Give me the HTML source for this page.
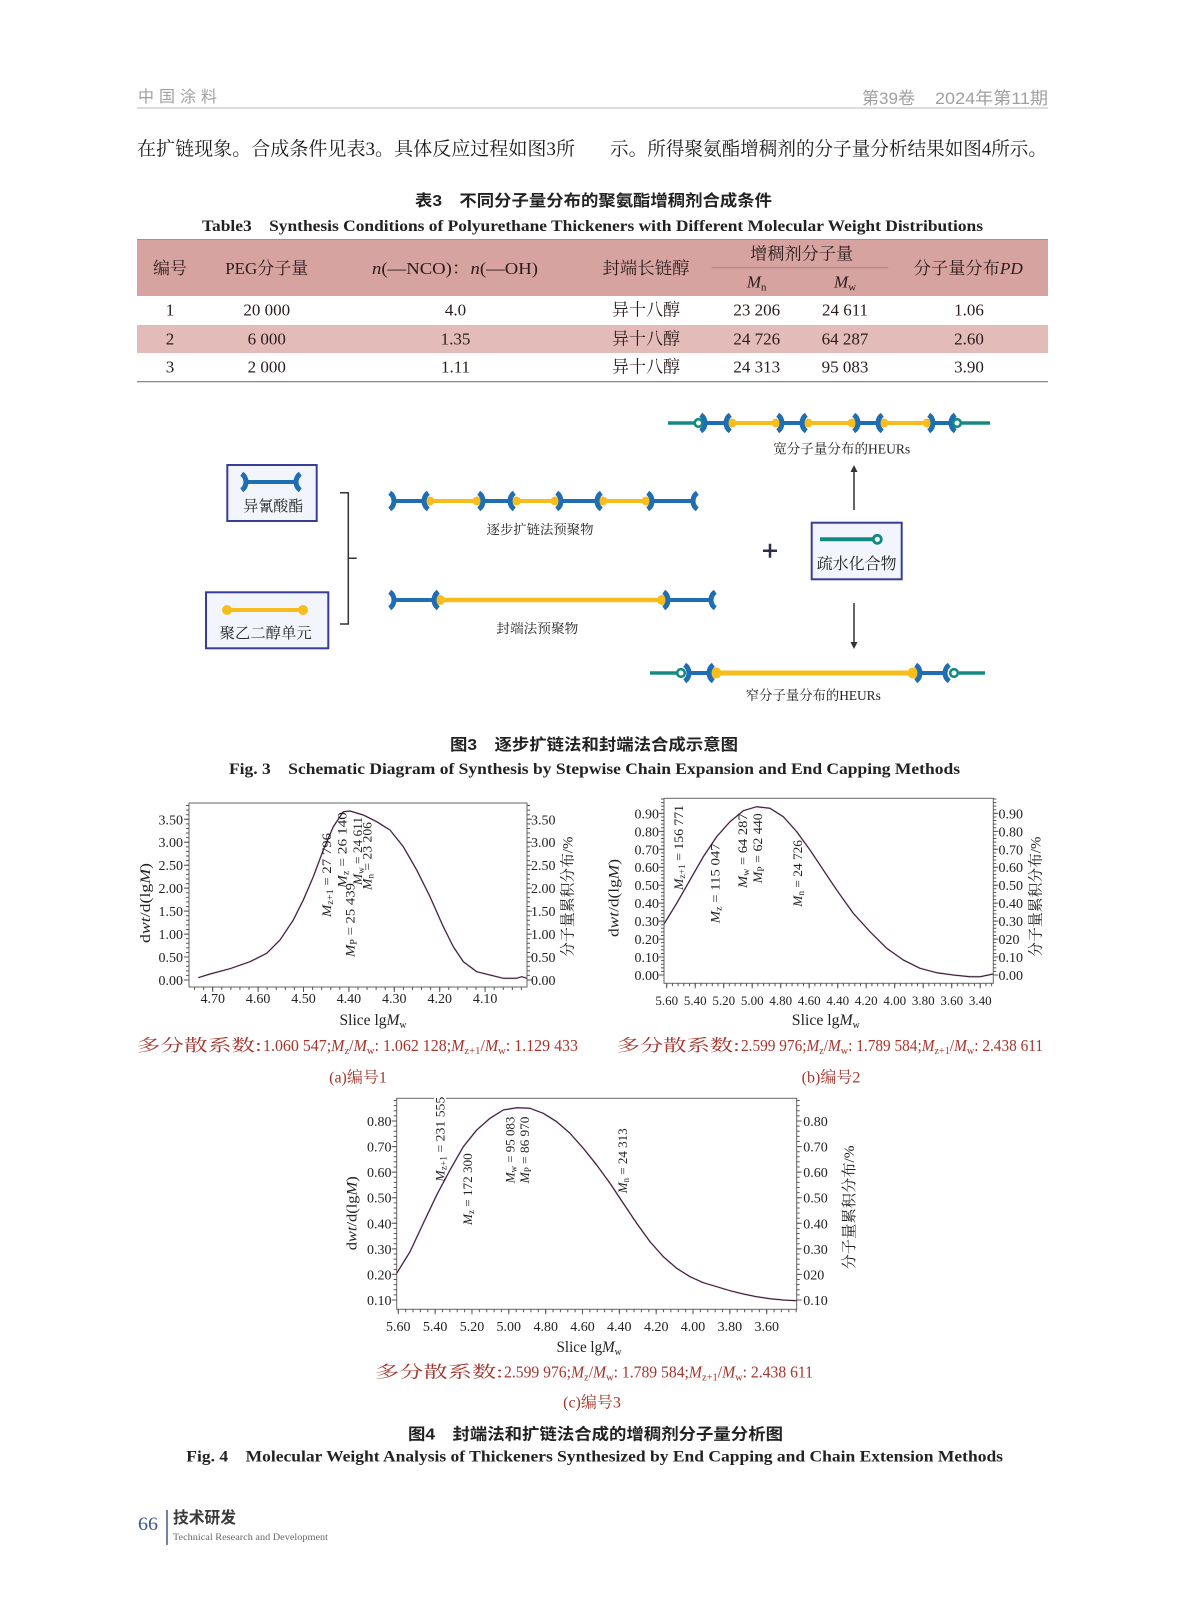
<!DOCTYPE html>
<html><head><meta charset="utf-8">
<style>
html,body{margin:0;padding:0;background:#fff;}
svg{display:block;}
.s{font-family:"Liberation Serif","Noto Serif CJK SC",serif;}
.h{font-family:"Liberation Sans","Noto Sans CJK SC",sans-serif;}
.it{font-style:italic;}
</style></head><body>
<svg width="1187" height="1600" viewBox="0 0 1187 1600" xmlns="http://www.w3.org/2000/svg">
<rect width="1187" height="1600" fill="#fff"/>

<!-- Header -->
<text class="h" x="138" y="102" font-size="16" fill="#a0a0a0" letter-spacing="5">中国涂料</text>
<text class="h" x="862" y="104" font-size="17" fill="#a0a0a0" textLength="53" lengthAdjust="spacingAndGlyphs">第39卷</text>
<text class="h" x="935" y="104" font-size="17" fill="#a0a0a0" textLength="113" lengthAdjust="spacingAndGlyphs">2024年第11期</text>
<line x1="137" y1="108" x2="1048" y2="108" stroke="#d0d0d0" stroke-width="1.5"/>

<!-- Body text -->
<text class="s" x="137" y="155" font-size="19" fill="#1a1a1a" textLength="438" lengthAdjust="spacingAndGlyphs">在扩链现象。合成条件见表3。具体反应过程如图3所</text>
<text class="s" x="610" y="155" font-size="19" fill="#1a1a1a" textLength="437" lengthAdjust="spacingAndGlyphs">示。所得聚氨酯增稠剂的分子量分析结果如图4所示。</text>

<!-- Table titles -->
<text class="h" x="415" y="206" font-size="16" font-weight="bold" fill="#222" textLength="357" lengthAdjust="spacingAndGlyphs">表3　不同分子量分布的聚氨酯增稠剂合成条件</text>
<text class="s" x="202" y="231" font-size="16" font-weight="bold" fill="#222" textLength="781" lengthAdjust="spacingAndGlyphs">Table3　Synthesis Conditions of Polyurethane Thickeners with Different Molecular Weight Distributions</text>

<!-- Table -->
<rect x="137" y="239" width="911" height="57" fill="#d6a3a0"/>
<line x1="137" y1="239.5" x2="1048" y2="239.5" stroke="#b98884" stroke-width="1"/>
<rect x="137" y="325" width="911" height="28" fill="#e3bcb9"/>
<line x1="137" y1="381.7" x2="1048" y2="381.7" stroke="#7a7a7a" stroke-width="1.2"/>
<g class="s" font-size="17" fill="#2a1c1c" text-anchor="middle">
<text x="170" y="274" textLength="34" lengthAdjust="spacingAndGlyphs">编号</text>
<text x="266.7" y="274" textLength="83" lengthAdjust="spacingAndGlyphs">PEG分子量</text>
<text x="455" y="274" textLength="166" lengthAdjust="spacingAndGlyphs"><tspan class="it">n</tspan>(—NCO)：<tspan class="it">n</tspan>(—OH)</text>
<text x="646" y="274" textLength="87" lengthAdjust="spacingAndGlyphs">封端长链醇</text>
<text x="801.7" y="259.5" textLength="103" lengthAdjust="spacingAndGlyphs">增稠剂分子量</text>
<text x="756.7" y="287.5"><tspan class="it">M</tspan><tspan font-size="11" dy="3">n</tspan></text>
<text x="845" y="287.5"><tspan class="it">M</tspan><tspan font-size="11" dy="3">w</tspan></text>
<text x="968.3" y="274" textLength="109" lengthAdjust="spacingAndGlyphs">分子量分布<tspan class="it">PD</tspan></text>

<text x="170" y="315.5">1</text>
<text x="266.7" y="315.5">20 000</text>
<text x="455.5" y="315.5">4.0</text>
<text x="646" y="315.5">异十八醇</text>
<text x="756.7" y="315.5">23 206</text>
<text x="845" y="315.5">24 611</text>
<text x="969" y="315.5">1.06</text>

<text x="170" y="344.5">2</text>
<text x="266.7" y="344.5">6 000</text>
<text x="455.5" y="344.5">1.35</text>
<text x="646" y="344.5">异十八醇</text>
<text x="756.7" y="344.5">24 726</text>
<text x="845" y="344.5">64 287</text>
<text x="969" y="344.5">2.60</text>

<text x="170" y="372.5">3</text>
<text x="266.7" y="372.5">2 000</text>
<text x="455.5" y="372.5">1.11</text>
<text x="646" y="372.5">异十八醇</text>
<text x="756.7" y="372.5">24 313</text>
<text x="845" y="372.5">95 083</text>
<text x="969" y="372.5">3.90</text>
</g>
<line x1="711.7" y1="267.7" x2="888.3" y2="267.7" stroke="#b07f7b" stroke-width="1"/>

<!-- Diagram -->
<g>
<rect x="227.3" y="465" width="89.4" height="56" fill="#f2f6fc" stroke="#3a3d96" stroke-width="2"/>
<rect x="206" y="592.3" width="122.3" height="56" fill="#f2f6fc" stroke="#3a3d96" stroke-width="2"/>
<rect x="811.7" y="522.7" width="90" height="56.6" fill="#f2f6fc" stroke="#3a3d96" stroke-width="2"/>

<!-- icon isocyanate -->
<g stroke="#1f6db2" fill="none" stroke-width="5">
<line x1="246" y1="482" x2="296" y2="482" stroke-width="4"/>
<path d="M241.7,473.8 A10,10 0 0 1 241.7,490.2"/>
<path d="M300.3,473.8 A10,10 0 0 0 300.3,490.2"/>
</g>
<!-- icon PEG -->
<line x1="227" y1="610" x2="303" y2="610" stroke="#f6bd1c" stroke-width="4"/>
<circle cx="227" cy="610" r="5" fill="#f6bd1c"/>
<circle cx="303" cy="610" r="5" fill="#f6bd1c"/>
<!-- icon hydrophobe -->
<line x1="820" y1="539.3" x2="873" y2="539.3" stroke="#138a80" stroke-width="4"/>
<circle cx="877.3" cy="539.3" r="4" fill="#fff" stroke="#138a80" stroke-width="2.8"/>

<g class="s" fill="#222" text-anchor="middle">
<text x="273.3" y="511" font-size="15" textLength="60" lengthAdjust="spacingAndGlyphs">异氰酸酯</text>
<text x="265.7" y="638" font-size="15" textLength="92" lengthAdjust="spacingAndGlyphs">聚乙二醇单元</text>
<text x="856.7" y="569" font-size="16" textLength="80" lengthAdjust="spacingAndGlyphs">疏水化合物</text>
<text x="540" y="534" font-size="13.3" textLength="107" lengthAdjust="spacingAndGlyphs">逐步扩链法预聚物</text>
<text x="537.3" y="633" font-size="13.3" textLength="82" lengthAdjust="spacingAndGlyphs">封端法预聚物</text>
<text x="841.7" y="453.5" font-size="13.5" textLength="137" lengthAdjust="spacingAndGlyphs">宽分子量分布的HEURs</text>
<text x="813.3" y="700" font-size="13.5" textLength="135" lengthAdjust="spacingAndGlyphs">窄分子量分布的HEURs</text>
</g>

<!-- bracket -->
<path d="M340,492.7 L348.3,492.7 L348.3,624 L340,624 M348.3,558.3 L356.7,558.3" stroke="#333" stroke-width="1.5" fill="none"/>
<!-- plus -->
<path d="M763,550.7 H777 M770,543.7 V557.7" stroke="#283048" stroke-width="2.5"/>
<!-- arrows -->
<line x1="854" y1="510" x2="854" y2="470" stroke="#333" stroke-width="1.5"/>
<polygon points="854,465 850.5,472 857.5,472" fill="#333"/>
<line x1="854" y1="603" x2="854" y2="644" stroke="#333" stroke-width="1.5"/>
<polygon points="854,649 850.5,642 857.5,642" fill="#333"/>

<!-- chain 1: stepwise -->
<g>
<g stroke="#f6bd1c" stroke-width="4"><line x1="430" y1="501" x2="477" y2="501"/><line x1="516.5" y1="501" x2="555" y2="501"/><line x1="603" y1="501" x2="646" y2="501"/></g>
<g fill="#f6bd1c"><circle cx="430" cy="501" r="4.5"/><circle cx="477" cy="501" r="4.5"/><circle cx="516.5" cy="501" r="4.5"/><circle cx="555" cy="501" r="4.5"/><circle cx="603" cy="501" r="4.5"/><circle cx="646" cy="501" r="4.5"/></g>
<g stroke="#1f6db2" stroke-width="5" fill="none">
<line x1="394" y1="501" x2="424" y2="501" stroke-width="4"/><path d="M389.7,492.8 A10,10 0 0 1 389.7,509.2"/><path d="M428.3,492.8 A10,10 0 0 0 428.3,509.2"/>
<line x1="483" y1="501" x2="510" y2="501" stroke-width="4"/><path d="M478.7,492.8 A10,10 0 0 1 478.7,509.2"/><path d="M514.3,492.8 A10,10 0 0 0 514.3,509.2"/>
<line x1="561" y1="501" x2="597" y2="501" stroke-width="4"/><path d="M556.7,492.8 A10,10 0 0 1 556.7,509.2"/><path d="M601.3,492.8 A10,10 0 0 0 601.3,509.2"/>
<line x1="652" y1="501" x2="693" y2="501" stroke-width="4"/><path d="M647.7,492.8 A10,10 0 0 1 647.7,509.2"/><path d="M697.3,492.8 A10,10 0 0 0 697.3,509.2"/>
</g>
</g>

<!-- chain 2: end-capping -->
<g>
<line x1="440" y1="600" x2="662" y2="600" stroke="#f6bd1c" stroke-width="4.5"/>
<circle cx="440" cy="600" r="5" fill="#f6bd1c"/><circle cx="662" cy="600" r="5" fill="#f6bd1c"/>
<g stroke="#1f6db2" stroke-width="5" fill="none">
<line x1="394" y1="600" x2="434" y2="600" stroke-width="4"/><path d="M389.7,591.8 A10,10 0 0 1 389.7,608.2"/><path d="M438.3,591.8 A10,10 0 0 0 438.3,608.2"/>
<line x1="668" y1="600" x2="711" y2="600" stroke-width="4"/><path d="M663.7,591.8 A10,10 0 0 1 663.7,608.2"/><path d="M715.3,591.8 A10,10 0 0 0 715.3,608.2"/>
</g>
</g>

<!-- top chain: broad HEURs -->
<g>
<g stroke="#138a80" stroke-width="3.5"><line x1="668" y1="423" x2="694" y2="423"/><line x1="961" y1="423" x2="990" y2="423"/></g>
<g stroke="#f6bd1c" stroke-width="4"><line x1="732" y1="423" x2="776" y2="423"/><line x1="808" y1="423" x2="852" y2="423"/><line x1="884" y1="423" x2="927" y2="423"/></g>
<g fill="#f6bd1c"><circle cx="732" cy="423" r="4.5"/><circle cx="776" cy="423" r="4.5"/><circle cx="808" cy="423" r="4.5"/><circle cx="852" cy="423" r="4.5"/><circle cx="884" cy="423" r="4.5"/><circle cx="927" cy="423" r="4.5"/></g>
<g stroke="#1f6db2" stroke-width="5" fill="none">
<line x1="705" y1="423" x2="726" y2="423" stroke-width="4"/><path d="M700.7,414.8 A10,10 0 0 1 700.7,431.2"/><path d="M730.3,414.8 A10,10 0 0 0 730.3,431.2"/>
<line x1="782" y1="423" x2="802" y2="423" stroke-width="4"/><path d="M777.7,414.8 A10,10 0 0 1 777.7,431.2"/><path d="M806.3,414.8 A10,10 0 0 0 806.3,431.2"/>
<line x1="858" y1="423" x2="878" y2="423" stroke-width="4"/><path d="M853.7,414.8 A10,10 0 0 1 853.7,431.2"/><path d="M882.3,414.8 A10,10 0 0 0 882.3,431.2"/>
<line x1="933" y1="423" x2="951" y2="423" stroke-width="4"/><path d="M928.7,414.8 A10,10 0 0 1 928.7,431.2"/><path d="M955.3,414.8 A10,10 0 0 0 955.3,431.2"/>
</g>
<circle cx="698.5" cy="423" r="3.8" fill="#fff" stroke="#138a80" stroke-width="2.6"/>
<circle cx="957" cy="423" r="3.8" fill="#fff" stroke="#138a80" stroke-width="2.6"/>
</g>

<!-- bottom chain: narrow HEURs -->
<g>
<g stroke="#138a80" stroke-width="3.5"><line x1="650" y1="673" x2="677" y2="673"/><line x1="959" y1="673" x2="985" y2="673"/></g>
<line x1="716" y1="673" x2="913" y2="673" stroke="#f6bd1c" stroke-width="5"/>
<circle cx="716" cy="673" r="5.5" fill="#f6bd1c"/><circle cx="913" cy="673" r="5.5" fill="#f6bd1c"/>
<g stroke="#1f6db2" stroke-width="5" fill="none">
<line x1="689" y1="673" x2="709" y2="673" stroke-width="4"/><path d="M684.7,664.8 A10,10 0 0 1 684.7,681.2"/><path d="M713.3,664.8 A10,10 0 0 0 713.3,681.2"/>
<line x1="920" y1="673" x2="945" y2="673" stroke-width="4"/><path d="M915.7,664.8 A10,10 0 0 1 915.7,681.2"/><path d="M949.3,664.8 A10,10 0 0 0 949.3,681.2"/>
</g>
<circle cx="681" cy="673" r="3.8" fill="#fff" stroke="#138a80" stroke-width="2.6"/>
<circle cx="954" cy="673" r="3.8" fill="#fff" stroke="#138a80" stroke-width="2.6"/>
</g>
</g>

<!-- Fig 3 caption -->
<text class="h" x="594" y="750" font-size="16" font-weight="bold" fill="#222" text-anchor="middle" textLength="288" lengthAdjust="spacingAndGlyphs">图3　逐步扩链法和封端法合成示意图</text>
<text class="s" x="229" y="774" font-size="16" font-weight="bold" fill="#222" textLength="731" lengthAdjust="spacingAndGlyphs">Fig. 3　Schematic Diagram of Synthesis by Stepwise Chain Expansion and End Capping Methods</text>

<!-- ============ Chart A ============ -->
<g class="s" fill="#222">
<rect x="189" y="803" width="338" height="184" fill="none" stroke="#666" stroke-width="1"/>
<g stroke="#555">
<line x1="187.5" y1="980.5" x2="187.5" y2="803" stroke-width="3" stroke-dasharray="1 3.592"/>
<line x1="186.5" y1="980.5" x2="186.5" y2="803" stroke-width="5" stroke-dasharray="1 21.96"/>
<line x1="528.5" y1="980.5" x2="528.5" y2="803" stroke-width="3" stroke-dasharray="1 3.592"/>
<line x1="529.5" y1="980.5" x2="529.5" y2="803" stroke-width="5" stroke-dasharray="1 21.96"/>
<line x1="194.04" y1="988.5" x2="527" y2="988.5" stroke-width="3" stroke-dasharray="1 8.08"/>
<line x1="212.2" y1="989.5" x2="527" y2="989.5" stroke-width="5" stroke-dasharray="1 44.4"/>
</g>
<g font-size="14" text-anchor="end">
<text x="183" y="824.3">3.50</text><text x="183" y="847.2">3.00</text><text x="183" y="870.2">2.50</text><text x="183" y="893.1">2.00</text><text x="183" y="916.1">1.50</text><text x="183" y="939">1.00</text><text x="183" y="962">0.50</text><text x="183" y="985">0.00</text>
</g>
<g font-size="14">
<text x="531" y="824.3">3.50</text><text x="531" y="847.2">3.00</text><text x="531" y="870.2">2.50</text><text x="531" y="893.1">2.00</text><text x="531" y="916.1">1.50</text><text x="531" y="939">1.00</text><text x="531" y="962">0.50</text><text x="531" y="985">0.00</text>
</g>
<g font-size="14" text-anchor="middle">
<text x="212.7" y="1003">4.70</text><text x="258.1" y="1003">4.60</text><text x="303.5" y="1003">4.50</text><text x="348.9" y="1003">4.40</text><text x="394.3" y="1003">4.30</text><text x="439.7" y="1003">4.20</text><text x="485.1" y="1003">4.10</text>
</g>
<polyline points="198.3,977.7 210,974 230,968.7 250,961.7 266.7,953.3 280,940 293.3,920 303.3,900 313.3,876.7 323.3,850 333.3,826.7 343.3,811.7 350,811 363.3,815 376.7,821.7 390,830 403.3,846.7 416.7,870 430,896.7 443.3,926.7 453.3,946.7 463.3,961.7 476.7,971.7 490,975 503.3,978.3 516.7,978.3 521.7,976.7 527,978.3" fill="none" stroke="#c884b4" stroke-width="1.8" stroke-linejoin="round" opacity="0.7"/>
<polyline points="198.3,977.7 210,974 230,968.7 250,961.7 266.7,953.3 280,940 293.3,920 303.3,900 313.3,876.7 323.3,850 333.3,826.7 343.3,811.7 350,811 363.3,815 376.7,821.7 390,830 403.3,846.7 416.7,870 430,896.7 443.3,926.7 453.3,946.7 463.3,961.7 476.7,971.7 490,975 503.3,978.3 516.7,978.3 521.7,976.7 527,978.3" fill="none" stroke="#2a1d30" stroke-width="1" stroke-linejoin="round"/>
<g font-size="13">
<text transform="translate(331,917) rotate(-90)" textLength="84" lengthAdjust="spacingAndGlyphs"><tspan class="it">M</tspan><tspan font-size="9" dy="2">z+1</tspan><tspan dy="-2"> = 27 796</tspan></text>
<text transform="translate(346.5,888) rotate(-90)" textLength="76" lengthAdjust="spacingAndGlyphs"><tspan class="it">M</tspan><tspan font-size="9" dy="2">z</tspan><tspan dy="-2"> = 26 140</tspan></text>
<text transform="translate(354.5,957) rotate(-90)" textLength="74" lengthAdjust="spacingAndGlyphs"><tspan class="it">M</tspan><tspan font-size="9" dy="2">P</tspan><tspan dy="-2"> = 25 439</tspan></text>
<text transform="translate(362,885) rotate(-90)" textLength="68" lengthAdjust="spacingAndGlyphs"><tspan class="it">M</tspan><tspan font-size="9" dy="2">w</tspan><tspan dy="-2"> = 24 611</tspan></text>
<text transform="translate(371.5,890) rotate(-90)" textLength="68" lengthAdjust="spacingAndGlyphs"><tspan class="it">M</tspan><tspan font-size="9" dy="2">n</tspan><tspan dy="-2"> = 23 206</tspan></text>
</g>
<text transform="translate(150,903) rotate(-90)" font-size="15" text-anchor="middle" textLength="80" lengthAdjust="spacingAndGlyphs">d<tspan class="it">wt</tspan>/d(lg<tspan class="it">M</tspan>)</text>
<text transform="translate(572.4,896.7) rotate(-90)" font-size="15" text-anchor="middle" textLength="120" lengthAdjust="spacingAndGlyphs">分子量累积分布/%</text>
<text x="373" y="1025" font-size="16" text-anchor="middle" textLength="67" lengthAdjust="spacingAndGlyphs">Slice lg<tspan class="it">M</tspan><tspan font-size="10" dy="3">w</tspan></text>
</g>
<g class="s" fill="#a5352c" font-size="16.5">
<text x="136.7" y="1051" textLength="125" lengthAdjust="spacingAndGlyphs">多分散系数:</text>
<text x="263" y="1051" textLength="315" lengthAdjust="spacingAndGlyphs">1.060 547;<tspan class="it">M</tspan><tspan font-size="11" dy="3">z</tspan><tspan dy="-3">/</tspan><tspan class="it">M</tspan><tspan font-size="11" dy="3">w</tspan><tspan dy="-3">: 1.062 128;</tspan><tspan class="it">M</tspan><tspan font-size="11" dy="3">z+1</tspan><tspan dy="-3">/</tspan><tspan class="it">M</tspan><tspan font-size="11" dy="3">w</tspan><tspan dy="-3">: 1.129 433</tspan></text>
<text x="358" y="1082.6" text-anchor="middle" font-size="16">(a)编号1</text>
</g>

<!-- ============ Chart B ============ -->
<g class="s" fill="#222">
<rect x="664" y="798.3" width="329.3" height="185" fill="none" stroke="#666" stroke-width="1"/>
<g stroke="#555">
<line x1="662.5" y1="975.5" x2="662.5" y2="798.3" stroke-width="3" stroke-dasharray="1 2.592"/>
<line x1="661.5" y1="975.5" x2="661.5" y2="798.3" stroke-width="5" stroke-dasharray="1 16.96"/>
<line x1="994.8" y1="975.5" x2="994.8" y2="798.3" stroke-width="3" stroke-dasharray="1 2.592"/>
<line x1="995.8" y1="975.5" x2="995.8" y2="798.3" stroke-width="5" stroke-dasharray="1 16.96"/>
<line x1="666.2" y1="984.8" x2="993.3" y2="984.8" stroke-width="3" stroke-dasharray="1 4.7"/>
<line x1="666.2" y1="985.8" x2="993.3" y2="985.8" stroke-width="5" stroke-dasharray="1 27.5"/>
</g>
<g font-size="14" text-anchor="end">
<text x="659" y="818.4">0.90</text><text x="659" y="836.3">0.80</text><text x="659" y="854.3">0.70</text><text x="659" y="872.2">0.60</text><text x="659" y="890.2">0.50</text><text x="659" y="908.2">0.40</text><text x="659" y="926.1">0.30</text><text x="659" y="944.1">0.20</text><text x="659" y="962">0.10</text><text x="659" y="980">0.00</text>
</g>
<g font-size="14">
<text x="998.5" y="818.4">0.90</text><text x="998.5" y="836.3">0.80</text><text x="998.5" y="854.3">0.70</text><text x="998.5" y="872.2">0.60</text><text x="998.5" y="890.2">0.50</text><text x="998.5" y="908.2">0.40</text><text x="998.5" y="926.1">0.30</text><text x="998.5" y="944.1">020</text><text x="998.5" y="962">0.10</text><text x="998.5" y="980">0.00</text>
</g>
<g font-size="13" text-anchor="middle">
<text x="666.7" y="1005">5.60</text><text x="695.2" y="1005">5.40</text><text x="723.7" y="1005">5.20</text><text x="752.2" y="1005">5.00</text><text x="780.7" y="1005">4.80</text><text x="809.2" y="1005">4.60</text><text x="837.7" y="1005">4.40</text><text x="866.2" y="1005">4.20</text><text x="894.7" y="1005">4.00</text><text x="923.2" y="1005">3.80</text><text x="951.7" y="1005">3.60</text><text x="980.2" y="1005">3.40</text>
</g>
<polyline points="664,924 676.7,903.3 690,880 703.3,856.7 716.7,836.7 730,821.7 743.3,810.7 756.7,806.7 770,808.3 783.3,816.7 796.7,831.7 810,850 823.3,870 836.7,890 853.3,913.3 870,931.7 886.7,948.3 903.3,960 920,968.3 936.7,972.7 953.3,975 970,976.7 980,976.7 993.3,974" fill="none" stroke="#c884b4" stroke-width="1.8" stroke-linejoin="round" opacity="0.7"/>
<polyline points="664,924 676.7,903.3 690,880 703.3,856.7 716.7,836.7 730,821.7 743.3,810.7 756.7,806.7 770,808.3 783.3,816.7 796.7,831.7 810,850 823.3,870 836.7,890 853.3,913.3 870,931.7 886.7,948.3 903.3,960 920,968.3 936.7,972.7 953.3,975 970,976.7 980,976.7 993.3,974" fill="none" stroke="#2a1d30" stroke-width="1" stroke-linejoin="round"/>
<g font-size="13">
<text transform="translate(682.8,890) rotate(-90)" textLength="85" lengthAdjust="spacingAndGlyphs"><tspan class="it">M</tspan><tspan font-size="9" dy="2">z+1</tspan><tspan dy="-2"> = 156 771</tspan></text>
<text transform="translate(719.5,923.3) rotate(-90)" textLength="80" lengthAdjust="spacingAndGlyphs"><tspan class="it">M</tspan><tspan font-size="9" dy="2">z</tspan><tspan dy="-2"> = 115 047</tspan></text>
<text transform="translate(747.2,888) rotate(-90)" textLength="74.7" lengthAdjust="spacingAndGlyphs"><tspan class="it">M</tspan><tspan font-size="9" dy="2">w</tspan><tspan dy="-2"> = 64 287</tspan></text>
<text transform="translate(761.8,883.3) rotate(-90)" textLength="70" lengthAdjust="spacingAndGlyphs"><tspan class="it">M</tspan><tspan font-size="9" dy="2">P</tspan><tspan dy="-2"> = 62 440</tspan></text>
<text transform="translate(801.8,906.7) rotate(-90)" textLength="66.7" lengthAdjust="spacingAndGlyphs"><tspan class="it">M</tspan><tspan font-size="9" dy="2">n</tspan><tspan dy="-2"> = 24 726</tspan></text>
</g>
<text transform="translate(618.5,898) rotate(-90)" font-size="15" text-anchor="middle" textLength="78" lengthAdjust="spacingAndGlyphs">d<tspan class="it">wt</tspan>/d(lg<tspan class="it">M</tspan>)</text>
<text transform="translate(1040.7,896.7) rotate(-90)" font-size="15" text-anchor="middle" textLength="120" lengthAdjust="spacingAndGlyphs">分子量累积分布/%</text>
<text x="825.8" y="1025" font-size="16" text-anchor="middle" textLength="68" lengthAdjust="spacingAndGlyphs">Slice lg<tspan class="it">M</tspan><tspan font-size="10" dy="3">w</tspan></text>
</g>
<g class="s" fill="#a5352c" font-size="16.5">
<text x="616.7" y="1051" textLength="123" lengthAdjust="spacingAndGlyphs">多分散系数:</text>
<text x="741" y="1051" textLength="302" lengthAdjust="spacingAndGlyphs">2.599 976;<tspan class="it">M</tspan><tspan font-size="11" dy="3">z</tspan><tspan dy="-3">/</tspan><tspan class="it">M</tspan><tspan font-size="11" dy="3">w</tspan><tspan dy="-3">: 1.789 584;</tspan><tspan class="it">M</tspan><tspan font-size="11" dy="3">z+1</tspan><tspan dy="-3">/</tspan><tspan class="it">M</tspan><tspan font-size="11" dy="3">w</tspan><tspan dy="-3">: 2.438 611</tspan></text>
<text x="831" y="1082.6" text-anchor="middle" font-size="16">(b)编号2</text>
</g>

<!-- ============ Chart C ============ -->
<g class="s" fill="#222">
<rect x="396.7" y="1098.3" width="400" height="211" fill="none" stroke="#666" stroke-width="1"/>
<g stroke="#555">
<line x1="395.2" y1="1300.5" x2="395.2" y2="1098.3" stroke-width="3" stroke-dasharray="1 4.114"/>
<line x1="394.2" y1="1300.5" x2="394.2" y2="1098.3" stroke-width="5" stroke-dasharray="1 24.57"/>
<line x1="798.2" y1="1300.5" x2="798.2" y2="1098.3" stroke-width="3" stroke-dasharray="1 4.114"/>
<line x1="799.2" y1="1300.5" x2="799.2" y2="1098.3" stroke-width="5" stroke-dasharray="1 24.57"/>
<line x1="397.8" y1="1310.8" x2="796.7" y2="1310.8" stroke-width="3" stroke-dasharray="1 6.368"/>
<line x1="397.8" y1="1311.8" x2="796.7" y2="1311.8" stroke-width="5" stroke-dasharray="1 35.84"/>
</g>
<g font-size="14" text-anchor="end">
<text x="391.5" y="1126">0.80</text><text x="391.5" y="1151.6">0.70</text><text x="391.5" y="1177.2">0.60</text><text x="391.5" y="1202.7">0.50</text><text x="391.5" y="1228.3">0.40</text><text x="391.5" y="1253.9">0.30</text><text x="391.5" y="1279.4">0.20</text><text x="391.5" y="1305">0.10</text>
</g>
<g font-size="14">
<text x="803.3" y="1126">0.80</text><text x="803.3" y="1151.6">0.70</text><text x="803.3" y="1177.2">0.60</text><text x="803.3" y="1202.7">0.50</text><text x="803.3" y="1228.3">0.40</text><text x="803.3" y="1253.9">0.30</text><text x="803.3" y="1279.4">020</text><text x="803.3" y="1305">0.10</text>
</g>
<g font-size="14" text-anchor="middle">
<text x="398.3" y="1331">5.60</text><text x="435.1" y="1331">5.40</text><text x="472" y="1331">5.20</text><text x="508.8" y="1331">5.00</text><text x="545.7" y="1331">4.80</text><text x="582.5" y="1331">4.60</text><text x="619.3" y="1331">4.40</text><text x="656.2" y="1331">4.20</text><text x="693" y="1331">4.00</text><text x="729.9" y="1331">3.80</text><text x="766.7" y="1331">3.60</text>
</g>
<polyline points="396.7,1273.3 410,1251.7 423.3,1223.3 436.7,1195 450,1170 463.3,1146.7 476.7,1130 490,1118.3 503.3,1110 516.7,1107.7 530,1108.3 543.3,1113.3 556.7,1121.7 570,1133.3 583.3,1148.3 596.7,1165 610,1183.3 623.3,1203.3 636.7,1223.3 650,1241.7 663.3,1256.7 676.7,1268.3 690,1276.7 703.3,1282.7 716.7,1286.7 730,1290.7 743.3,1294 756.7,1296.7 770,1298.7 783.3,1300 796.7,1300.7" fill="none" stroke="#c884b4" stroke-width="1.8" stroke-linejoin="round" opacity="0.7"/>
<polyline points="396.7,1273.3 410,1251.7 423.3,1223.3 436.7,1195 450,1170 463.3,1146.7 476.7,1130 490,1118.3 503.3,1110 516.7,1107.7 530,1108.3 543.3,1113.3 556.7,1121.7 570,1133.3 583.3,1148.3 596.7,1165 610,1183.3 623.3,1203.3 636.7,1223.3 650,1241.7 663.3,1256.7 676.7,1268.3 690,1276.7 703.3,1282.7 716.7,1286.7 730,1290.7 743.3,1294 756.7,1296.7 770,1298.7 783.3,1300 796.7,1300.7" fill="none" stroke="#2a1d30" stroke-width="1" stroke-linejoin="round"/>
<rect x="434" y="1095" width="12" height="6" fill="#fff"/>
<g font-size="13">
<text transform="translate(444.5,1181.7) rotate(-90)" textLength="85" lengthAdjust="spacingAndGlyphs"><tspan class="it">M</tspan><tspan font-size="9" dy="2">z+1</tspan><tspan dy="-2"> = 231 555</tspan></text>
<text transform="translate(471.8,1225) rotate(-90)" textLength="71.7" lengthAdjust="spacingAndGlyphs"><tspan class="it">M</tspan><tspan font-size="9" dy="2">z</tspan><tspan dy="-2"> = 172 300</tspan></text>
<text transform="translate(514.5,1183.3) rotate(-90)" textLength="66.7" lengthAdjust="spacingAndGlyphs"><tspan class="it">M</tspan><tspan font-size="9" dy="2">w</tspan><tspan dy="-2"> = 95 083</tspan></text>
<text transform="translate(528.8,1183.3) rotate(-90)" textLength="66.7" lengthAdjust="spacingAndGlyphs"><tspan class="it">M</tspan><tspan font-size="9" dy="2">P</tspan><tspan dy="-2"> = 86 970</tspan></text>
<text transform="translate(627.2,1193.3) rotate(-90)" textLength="65" lengthAdjust="spacingAndGlyphs"><tspan class="it">M</tspan><tspan font-size="9" dy="2">n</tspan><tspan dy="-2"> = 24 313</tspan></text>
</g>
<text transform="translate(356.7,1213.3) rotate(-90)" font-size="15" text-anchor="middle" textLength="74" lengthAdjust="spacingAndGlyphs">d<tspan class="it">wt</tspan>/d(lg<tspan class="it">M</tspan>)</text>
<text transform="translate(854,1207.5) rotate(-90)" font-size="15" text-anchor="middle" textLength="124" lengthAdjust="spacingAndGlyphs">分子量累积分布/%</text>
<text x="589" y="1352" font-size="16" text-anchor="middle" textLength="65" lengthAdjust="spacingAndGlyphs">Slice lg<tspan class="it">M</tspan><tspan font-size="10" dy="3">w</tspan></text>
</g>
<g class="s" fill="#a5352c" font-size="16.5">
<text x="375" y="1377.7" textLength="128" lengthAdjust="spacingAndGlyphs">多分散系数:</text>
<text x="504" y="1377.7" textLength="309" lengthAdjust="spacingAndGlyphs">2.599 976;<tspan class="it">M</tspan><tspan font-size="11" dy="3">z</tspan><tspan dy="-3">/</tspan><tspan class="it">M</tspan><tspan font-size="11" dy="3">w</tspan><tspan dy="-3">: 1.789 584;</tspan><tspan class="it">M</tspan><tspan font-size="11" dy="3">z+1</tspan><tspan dy="-3">/</tspan><tspan class="it">M</tspan><tspan font-size="11" dy="3">w</tspan><tspan dy="-3">: 2.438 611</tspan></text>
<text x="592" y="1407.7" text-anchor="middle" font-size="16">(c)编号3</text>
</g>

<!-- Fig 4 caption -->
<text class="h" x="595.5" y="1439.5" font-size="16" font-weight="bold" fill="#222" text-anchor="middle" textLength="375" lengthAdjust="spacingAndGlyphs">图4　封端法和扩链法合成的增稠剂分子量分析图</text>
<text class="s" x="186.3" y="1461.5" font-size="16" font-weight="bold" fill="#222" textLength="816.7" lengthAdjust="spacingAndGlyphs">Fig. 4　Molecular Weight Analysis of Thickeners Synthesized by End Capping and Chain Extension Methods</text>

<!-- Footer -->
<text class="s" x="138" y="1530" font-size="19" fill="#3d5a8a" textLength="20" lengthAdjust="spacingAndGlyphs">66</text>
<line x1="167" y1="1510" x2="167" y2="1545" stroke="#3d5a8a" stroke-width="1.5"/>
<text class="h" x="173" y="1523" font-size="16" font-weight="bold" fill="#3a3a3a" textLength="63" lengthAdjust="spacingAndGlyphs">技术研发</text>
<text class="s" x="173" y="1540" font-size="9" fill="#666" textLength="155" lengthAdjust="spacingAndGlyphs">Technical Research and Development</text>
</svg>
</body></html>
